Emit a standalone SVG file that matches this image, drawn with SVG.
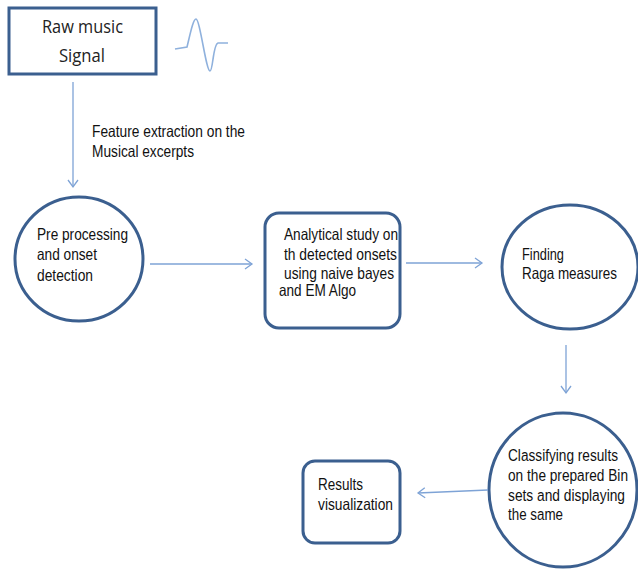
<svg xmlns="http://www.w3.org/2000/svg" width="638" height="571" viewBox="0 0 638 571">
<defs>
<marker id="arr" markerWidth="12" markerHeight="12" refX="10" refY="6" orient="auto" markerUnits="userSpaceOnUse">
<path d="M3,1 L10,6 L3,11" fill="none" stroke="#7ea3d6" stroke-width="1.3"/>
</marker>
<style>
.node{fill:#fff;stroke:#3b5f8f;stroke-width:3}
.conn{fill:none;stroke:#7ea3d6;stroke-width:1.3;marker-end:url(#arr)}
.t{font-family:"Liberation Sans",Arial,sans-serif;font-size:16.5px;fill:#111}
.ts{font-family:"Liberation Sans",Arial,sans-serif;font-size:14.5px;fill:#111}
.tc{font-family:"Open Sans","Liberation Sans",sans-serif;font-size:19px;fill:#222}
</style>
</defs>
<rect width="638" height="571" fill="#fff"/>
<g id="raw-signal">
<rect class="node" x="9" y="8" width="147" height="66"/>
<text class="tc" x="42" y="33" textLength="81" lengthAdjust="spacingAndGlyphs">Raw music</text>
<text class="tc" x="59" y="62" textLength="46" lengthAdjust="spacingAndGlyphs">Signal</text>
</g>
<g id="waveform">
<path d="M175,49 L187,47 C190,35 193,19 196,19 C200,19 206,71 210,71 C213,71 213,44 218,43 L228,43" fill="none" stroke="#8fb1dd" stroke-width="1.6"/>
</g>
<g id="preprocessing">
<ellipse class="node" cx="79" cy="259" rx="64" ry="62"/>
<text class="t" x="37" y="240" textLength="91" lengthAdjust="spacingAndGlyphs">Pre processing</text>
<text class="t" x="37" y="260" textLength="60" lengthAdjust="spacingAndGlyphs">and onset</text>
<text class="t" x="37" y="281" textLength="56" lengthAdjust="spacingAndGlyphs">detection</text>
</g>
<g id="analytical">
<rect class="node" x="265" y="213" width="135" height="115" rx="14"/>
<text class="t" x="284" y="240" textLength="114" lengthAdjust="spacingAndGlyphs">Analytical study on</text>
<text class="t" x="284" y="260" textLength="113" lengthAdjust="spacingAndGlyphs">th detected onsets</text>
<text class="t" x="284" y="279" textLength="110" lengthAdjust="spacingAndGlyphs">using naive bayes</text>
<text class="t" x="279" y="296" textLength="77" lengthAdjust="spacingAndGlyphs">and EM Algo</text>
</g>
<g id="raga">
<ellipse class="node" cx="570" cy="267" rx="68" ry="62"/>
<text class="t" x="522" y="260" textLength="42" lengthAdjust="spacingAndGlyphs">Finding</text>
<text class="t" x="522" y="279" textLength="95" lengthAdjust="spacingAndGlyphs">Raga measures</text>
</g>
<g id="classifying">
<ellipse class="node" cx="563" cy="490" rx="74" ry="77"/>
<text class="ts" transform="matrix(1 0 0 1.14 508 461)" x="0" y="0" textLength="110" lengthAdjust="spacingAndGlyphs">Classifying results</text>
<text class="ts" transform="matrix(1 0 0 1.14 508 481)" x="0" y="0" textLength="120" lengthAdjust="spacingAndGlyphs">on the prepared Bin</text>
<text class="ts" transform="matrix(1 0 0 1.14 508 501)" x="0" y="0" textLength="117" lengthAdjust="spacingAndGlyphs">sets and displaying</text>
<text class="ts" transform="matrix(1 0 0 1.14 508 520)" x="0" y="0" textLength="55" lengthAdjust="spacingAndGlyphs">the same</text>
</g>
<g id="results">
<rect class="node" x="303" y="461" width="97" height="82" rx="12"/>
<text class="t" x="318" y="490" textLength="45" lengthAdjust="spacingAndGlyphs">Results</text>
<text class="t" x="318" y="510" textLength="75" lengthAdjust="spacingAndGlyphs">visualization</text>
</g>
<g id="connectors">
<line class="conn" x1="73" y1="82" x2="73" y2="187"/>
<text class="t" x="92" y="137" font-size="15" textLength="153" lengthAdjust="spacingAndGlyphs">Feature extraction on the</text>
<text class="t" x="92" y="157" font-size="15" textLength="102" lengthAdjust="spacingAndGlyphs">Musical excerpts</text>
<line class="conn" x1="150" y1="264" x2="252" y2="264"/>
<line class="conn" x1="406" y1="263" x2="482" y2="263"/>
<line class="conn" x1="566" y1="345" x2="566" y2="393"/>
<line class="conn" x1="488" y1="490" x2="418" y2="493"/>
</g>
</svg>
